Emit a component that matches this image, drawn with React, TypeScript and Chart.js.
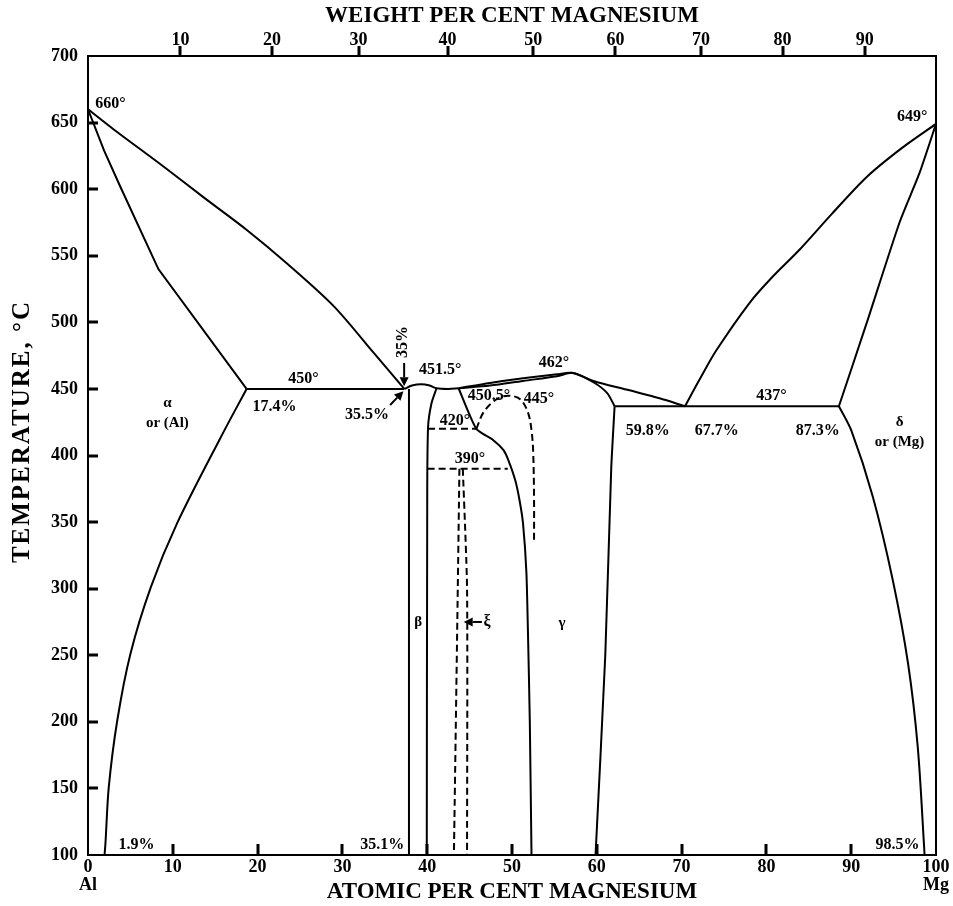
import React, { useEffect, useRef } from "react";
import { Chart, registerables } from "chart.js";

Chart.register(...registerables);

type Pt = [number, number];

// ---- axes ----
const atomicMin = 0;
const atomicMax = 100;
const tempMin = 100;
const tempMax = 700;
const weightTickLabels = [10, 20, 30, 40, 50, 60, 70, 80, 90];
const weightTickAtomic = [10.9, 21.7, 31.9, 42.4, 52.5, 62.2, 72.3, 81.9, 91.6];
const yTitle = "TEMPERATURE, °C";

// ---- phase boundaries (atomic % Mg, °C) ----
const alphaLiquidus: Pt[] = [[0, 660], [3.0, 645], [8.9, 617], [13.6, 594], [18.8, 569], [23.5, 544], [29.0, 512], [33.7, 477], [37.3, 450]];
const alphaSolidus: Pt[] = [[0, 660], [1.9, 629], [3.8, 602], [8.3, 540], [18.7, 450]];
const alphaSolvus: Pt[] = [[18.7, 450], [15.6, 413], [10.5, 349], [7.4, 301], [5.0, 251], [3.45, 201], [2.45, 151], [2.06, 109], [1.95, 100]];
const eutectic450: Pt[] = [[18.7, 450], [37.3, 450]];
const betaLeft: Pt[] = [[37.85, 450], [37.85, 100]];
const betaDome: Pt[] = [[37.3, 450], [38.2, 452.5], [39.3, 453.5], [40.3, 452.5], [41.1, 450.5], [42.5, 450], [43.7, 450.5]];
const betaRight: Pt[] = [[41.1, 450.5], [40.5, 439], [40.1, 421], [40.0, 350], [39.95, 100]];
const gammaLiquidus: Pt[] = [[43.7, 450.5], [47.4, 454.5], [51.3, 458], [55.3, 461], [57.2, 462], [59.6, 456], [63.5, 449.5], [67.4, 443], [70.4, 437]];
const gammaSolidus: Pt[] = [[43.7, 450.5], [47.4, 452.5], [51.3, 456], [55.3, 459.5], [57.2, 462], [59.6, 455], [61.2, 447], [62.1, 437]];
const gammaLeft: Pt[] = [[43.7, 450.5], [45.8, 420], [47.8, 411.5], [49.0, 404], [49.6, 396], [50.4, 381], [50.9, 366], [51.3, 349], [51.7, 312], [51.9, 262], [52.1, 200], [52.3, 100]];
const gammaRight: Pt[] = [[62.1, 437], [61.7, 390], [61.0, 250], [59.85, 100]];
const eutectic437: Pt[] = [[62.1, 437], [88.55, 437]];
const deltaLiquidus: Pt[] = [[70.4, 437], [72.2, 458], [74.1, 479], [78.0, 514.5], [80.7, 534], [83.9, 554.5], [87.8, 582], [91.8, 609], [96.0, 631], [100, 649]];
const deltaSolidus: Pt[] = [[100, 649], [98.05, 612], [95.7, 575], [91.8, 499], [88.55, 437]];
const deltaSolvus: Pt[] = [[88.55, 437], [90.0, 419], [92.55, 369], [94.9, 306.5], [96.7, 244], [97.85, 181], [98.6, 106], [98.65, 100]];

// dashed boundaries
const line420: Pt[] = [[40.1, 420], [45.8, 420]];
const line390: Pt[] = [[40.05, 390], [49.5, 390]];
const xiLeft: Pt[] = [[43.8, 390], [43.55, 275], [43.15, 100]];
const xiRight: Pt[] = [[44.2, 390], [44.7, 300], [44.7, 100]];
const dome445: Pt[] = [[45.8, 420], [46.6, 432], [47.8, 440.5], [49.0, 444.5], [50.2, 444.5], [51.1, 441.5], [51.9, 432], [52.3, 419], [52.5, 402], [52.6, 367], [52.6, 334]];

const solidCurves: { pts: Pt[]; tension: number }[] = [
  { pts: alphaLiquidus, tension: 0.3 },
  { pts: alphaSolidus, tension: 0 },
  { pts: alphaSolvus, tension: 0.3 },
  { pts: eutectic450, tension: 0 },
  { pts: betaLeft, tension: 0 },
  { pts: betaDome, tension: 0.3 },
  { pts: betaRight, tension: 0.3 },
  { pts: gammaLiquidus, tension: 0.3 },
  { pts: gammaSolidus, tension: 0.3 },
  { pts: gammaLeft, tension: 0.2 },
  { pts: gammaRight, tension: 0.2 },
  { pts: eutectic437, tension: 0 },
  { pts: deltaLiquidus, tension: 0.3 },
  { pts: deltaSolidus, tension: 0.2 },
  { pts: deltaSolvus, tension: 0.3 },
];
const dashedCurves: { pts: Pt[]; tension: number }[] = [
  { pts: line420, tension: 0 },
  { pts: line390, tension: 0 },
  { pts: xiLeft, tension: 0.2 },
  { pts: xiRight, tension: 0.2 },
  { pts: dome445, tension: 0.35 },
];

// ---- text labels (data coordinates) ----
type Note = { text: string; x: number; y: number; size: number; rotate?: boolean };
const notes: Note[] = [
  { text: "660°", x: 2.65, y: 664, size: 16 },
  { text: "649°", x: 97.2, y: 654, size: 16 },
  { text: "450°", x: 25.4, y: 457.4, size: 16 },
  { text: "17.4%", x: 22.0, y: 436.4, size: 16 },
  { text: "α", x: 9.36, y: 439.4, size: 15 },
  { text: "or (Al)", x: 9.36, y: 424.4, size: 15 },
  { text: "35%", x: 37.16, y: 485.2, size: 16, rotate: true },
  { text: "35.5%", x: 32.9, y: 430.4, size: 16 },
  { text: "451.5°", x: 41.52, y: 464.2, size: 16 },
  { text: "462°", x: 54.95, y: 469.5, size: 16 },
  { text: "450.5°", x: 47.29, y: 444.7, size: 16 },
  { text: "445°", x: 53.18, y: 442.4, size: 16 },
  { text: "420°", x: 43.28, y: 425.9, size: 16 },
  { text: "390°", x: 45.05, y: 397.4, size: 16 },
  { text: "437°", x: 80.6, y: 444.7, size: 16 },
  { text: "59.8%", x: 66.0, y: 418.4, size: 16 },
  { text: "67.7%", x: 74.15, y: 418.4, size: 16 },
  { text: "87.3%", x: 86.05, y: 418.4, size: 16 },
  { text: "δ", x: 95.7, y: 425.2, size: 15 },
  { text: "or (Mg)", x: 95.7, y: 410.1, size: 15 },
  { text: "1.9%", x: 5.71, y: 107.5, size: 16 },
  { text: "35.1%", x: 34.69, y: 107.5, size: 16 },
  { text: "98.5%", x: 95.47, y: 107.5, size: 16 },
  { text: "β", x: 38.93, y: 275, size: 15 },
  { text: "ξ", x: 47.05, y: 275, size: 16 },
  { text: "γ", x: 55.9, y: 274.2, size: 15 },
];
const arrows: { from: Pt; to: Pt }[] = [
  { from: [37.28, 469.5], to: [37.28, 452] },
  { from: [35.63, 437.9], to: [37.2, 448.3] },
  { from: [46.45, 275], to: [44.3, 275] },
];

const FONT = '"Liberation Serif", "Times New Roman", serif';

const overlay = {
  id: "overlay",
  afterDatasetsDraw(chart: any) {
    const { ctx, chartArea: a, scales } = chart;
    const xs = scales.x, ys = scales.y, xt = scales.x2;
    ctx.save();
    ctx.strokeStyle = "#000";
    ctx.fillStyle = "#000";
    // frame
    ctx.lineWidth = 2;
    ctx.strokeRect(a.left, a.top, a.right - a.left, a.bottom - a.top);
    ctx.lineWidth = 3;
    ctx.beginPath();
    for (let v = 10; v < atomicMax; v += 10) {
      const px = Math.round(xs.getPixelForValue(v));
      ctx.moveTo(px, a.bottom);
      ctx.lineTo(px, a.bottom - 11);
    }
    for (let t = tempMin + 50; t < tempMax; t += 50) {
      const py = Math.round(ys.getPixelForValue(t));
      ctx.moveTo(a.left, py);
      ctx.lineTo(a.left + 10, py);
    }
    for (const w of weightTickAtomic) {
      const px = Math.round(xt.getPixelForValue(w));
      ctx.moveTo(px, a.top);
      ctx.lineTo(px, a.top - 10);
    }
    ctx.stroke();
    // arrows
    ctx.lineWidth = 2;
    for (const ar of arrows) {
      const x1 = xs.getPixelForValue(ar.from[0]), y1 = ys.getPixelForValue(ar.from[1]);
      const x2 = xs.getPixelForValue(ar.to[0]), y2 = ys.getPixelForValue(ar.to[1]);
      const ang = Math.atan2(y2 - y1, x2 - x1);
      const hl = 9, hw = 4.5;
      const bx = x2 - hl * Math.cos(ang), by = y2 - hl * Math.sin(ang);
      ctx.beginPath();
      ctx.moveTo(x1, y1);
      ctx.lineTo(bx, by);
      ctx.stroke();
      ctx.beginPath();
      ctx.moveTo(x2, y2);
      ctx.lineTo(bx + hw * Math.sin(ang), by - hw * Math.cos(ang));
      ctx.lineTo(bx - hw * Math.sin(ang), by + hw * Math.cos(ang));
      ctx.closePath();
      ctx.fill();
    }
    // text
    ctx.textAlign = "center";
    ctx.textBaseline = "middle";
    for (const n of notes) {
      ctx.font = `bold ${n.size}px ${FONT}`;
      const px = xs.getPixelForValue(n.x), py = ys.getPixelForValue(n.y);
      if (n.rotate) {
        ctx.save();
        ctx.translate(px, py);
        ctx.rotate(-Math.PI / 2);
        ctx.fillText(n.text, 0, 0);
        ctx.restore();
      } else {
        ctx.fillText(n.text, px, py);
      }
    }
    // y-axis title (wide-set, as in the original)
    ctx.save();
    ctx.font = `bold 25px ${FONT}`;
    (ctx as any).letterSpacing = "2px";
    ctx.translate(ys.left + 23, ys.getPixelForValue(418));
    ctx.rotate(-Math.PI / 2);
    ctx.fillText(yTitle, 0, 0);
    ctx.restore();
    ctx.restore();
  },
};

export default function App() {
  const ref = useRef<HTMLCanvasElement | null>(null);
  useEffect(() => {
    if (!ref.current) return;
    const toXY = (pts: Pt[]) => pts.map(([x, y]) => ({ x, y }));
    const datasets: any[] = [
      ...solidCurves.map((c) => ({
        data: toXY(c.pts), showLine: true, borderColor: "#000", borderWidth: 2,
        pointRadius: 0, tension: c.tension, fill: false,
      })),
      ...dashedCurves.map((c) => ({
        data: toXY(c.pts), showLine: true, borderColor: "#000", borderWidth: 2,
        borderDash: [7, 4], pointRadius: 0, tension: c.tension, fill: false,
      })),
    ];
    const tickFont = { family: FONT, size: 18, weight: "bold" as const, lineHeight: 1.0 };
    const titleFont = { family: FONT, size: 23, weight: "bold" as const };
    const chart = new Chart(ref.current, {
      type: "scatter",
      data: { datasets },
      options: {
        animation: false,
        responsive: false,
        layout: { padding: { left: 0, right: 17, top: 0, bottom: 0 } },
        plugins: { legend: { display: false }, tooltip: { enabled: false } },
        scales: {
          x: {
            type: "linear", position: "bottom", min: atomicMin, max: atomicMax,
            grid: { display: false, drawTicks: false }, border: { display: false },
            ticks: {
              stepSize: 10, autoSkip: false, maxRotation: 0, padding: 3, color: "#000", font: tickFont,
              callback: (v: any) => (v === 0 ? ["0", "Al"] : v === 100 ? ["100", "Mg"] : String(v)),
            },
            title: { display: true, text: "ATOMIC PER CENT MAGNESIUM", color: "#000", font: titleFont, padding: { top: 0, bottom: 0 } },
            afterFit: (s: any) => { s.height = 51; },
          },
          x2: {
            type: "linear", position: "top", min: atomicMin, max: atomicMax,
            grid: { display: false, drawTicks: false }, border: { display: false },
            afterBuildTicks: (axis: any) => { axis.ticks = weightTickAtomic.map((v) => ({ value: v })); },
            ticks: {
              autoSkip: false, maxRotation: 0, padding: 7, color: "#000", font: tickFont,
              callback: (_v: any, i: number) => String(weightTickLabels[i]),
            },
            title: { display: true, text: "WEIGHT PER CENT MAGNESIUM", color: "#000", font: titleFont, padding: { top: 2, bottom: 0 } },
            afterFit: (s: any) => { s.height = 56; },
          },
          y: {
            type: "linear", position: "left", min: tempMin, max: tempMax,
            grid: { display: false, drawTicks: false }, border: { display: false },
            ticks: { stepSize: 50, padding: 10, color: "#000", font: tickFont },
            title: { display: false, text: yTitle },
            afterFit: (s: any) => { s.width = 88; },
          },
        },
      },
      plugins: [overlay],
    });
    return () => chart.destroy();
  }, []);
  return (
    <div style={{ position: "absolute", left: 0, top: 0, width: 953, height: 906, background: "#fff" }}>
      <canvas ref={ref} width={953} height={906} style={{ display: "block" }} />
    </div>
  );
}
